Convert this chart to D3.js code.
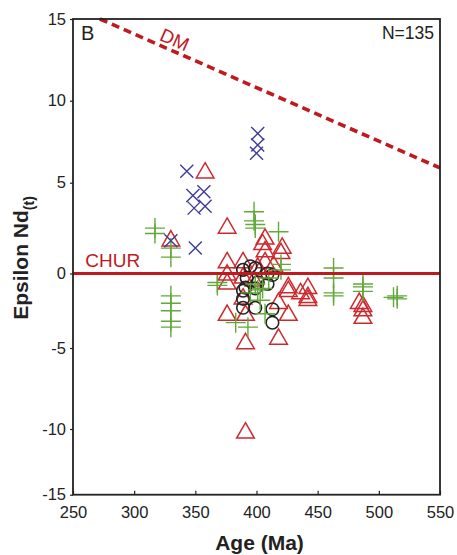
<!DOCTYPE html>
<html>
<head>
<meta charset="utf-8">
<script src="https://cdn.jsdelivr.net/npm/d3@7"></script>
<style>
  body { margin: 0; background: #fff; }
  svg text { font-family: "Liberation Sans", Arial, Helvetica, sans-serif; }
</style>
</head>
<body>
<svg id="chart" width="457" height="555"></svg>
<script>
// tick labels
const xTicks = [250, 300, 350, 400, 450, 500, 550];
const yTicks = [15, 10, 5, 0, -5, -10, -15];

// [age Ma, epsilon Nd(t)]
const crossPts = [
  [343, 5.7], [348, 4.3], [357, 4.5], [349, 3.6], [358, 3.7],
  [330, 1.8], [350, 1.4], [401, 8.0], [401, 7.3], [400, 6.8]
];
const trianglePts = [
  [358, 5.6], [330, 1.8], [376, 2.5], [407, 1.9], [421, 1.4], [420, 1.1],
  [407, 1.2], [407, 0.6], [376, 0.6], [389, 0.6], [376, -0.1], [376, -0.7],
  [389, -0.3], [401, 0.3], [398, -0.5], [405, 1.6], [414, 0.4],
  [426, -0.95], [426, -1.2], [436, -1.35], [442, -1.0], [442, -1.6], [442, -1.8],
  [484, -2.0], [487, -2.2], [487, -2.5], [487, -3.0],
  [376, -2.8], [391, -2.8], [426, -2.8], [418, -2.0], [389, -1.7],
  [391, -4.7], [418, -4.4], [391, -10.3]
];
const plusPts = [
  [317, 2.5], [317, 2.2], [330, 1.4], [330, 0.9],
  [330, -1.5], [330, -2.0], [330, -2.5], [330, -3.2], [330, -3.6],
  [368, -0.6], [368, -0.8], [398, 3.4], [398, 2.9], [399, 2.7], [399, 2.5],
  [418, 2.3], [420, 0.5], [420, 0.2], [399, -0.7], [401, -1.1], [403, -1.8],
  [407, -2.7], [383, -3.3], [393, -3.6], [405, -1.0], [410, -0.3], [395, -1.3],
  [463, 0.3], [463, -0.3], [463, -1.3], [463, -1.5],
  [487, -0.7], [487, -0.9], [487, -1.2],
  [515, -1.5], [515, -1.7], [512, -1.6]
];
const circlePts = [
  [389, 0.2], [399, 0.3], [392, -0.3], [409, 0], [413, -0.1], [395, 0.4],
  [389, -1.15], [399, -1.0], [391, -0.95], [401, -0.6], [409, -0.7],
  [389, -1.7], [389, -2.3], [399, -2.3], [413, -2.4], [413, -3.3]
];
// reference curves
const dmLine = [[272, 15], [550, 5.9]];
const churValue = 0;

const svg = d3.select("#chart");

// plot frame
const plotLeft = 73, plotRight = 440, plotTop = 19, plotBottom = 494.7;

var x = d3.scaleLinear().domain([250, 550]).range([plotLeft, plotRight]);
// the original figure's y ticks are not evenly spaced, follow them
var y = d3.scaleLinear()
  .domain([15, 10, 5, 0, -5, -10, -15])
  .range([plotTop, 100.7, 182.7, 273.5, 348, 429, plotBottom]);

const red = "#c0191f";
const triRed = "#cc2a2e";
const green = "#62a83a";
const blue = "#3d3d98";

// DM line
var dmPath = d3.line().x(d => x(d[0])).y(d => y(d[1]));
svg.append("path")
  .datum(dmLine)
  .attr("fill", "none")
  .attr("stroke", red)
  .attr("stroke-width", 3.6)
  .attr("stroke-dasharray", "8,5")
  .attr("d", dmPath);

var ang = Math.atan2(y(dmLine[1][1]) - y(dmLine[0][1]), x(dmLine[1][0]) - x(dmLine[0][0])) * 180 / Math.PI;
var labAge = 331;
var labEps = dmLine[0][1] + (labAge - dmLine[0][0]) / (dmLine[1][0] - dmLine[0][0]) * (dmLine[1][1] - dmLine[0][1]);
svg.append("text")
  .attr("transform", "translate(" + x(labAge) + "," + (y(labEps) - 5) + ") rotate(" + ang + ")")
  .attr("text-anchor", "middle")
  .attr("fill", red)
  .attr("font-size", 19)
  .text("DM");

// markers
svg.append("g").selectAll("path")
  .data(trianglePts)
  .enter().append("path")
  .attr("transform", d => "translate(" + x(d[0]) + "," + y(d[1]) + ")")
  .attr("d", d3.symbol(d3.symbolTriangle, 135))
  .attr("fill", "none")
  .attr("stroke", triRed)
  .attr("stroke-width", 1.5);

svg.append("g").selectAll("circle")
  .data(circlePts)
  .enter().append("circle")
  .attr("cx", d => x(d[0]))
  .attr("cy", d => y(d[1]))
  .attr("r", 6.3)
  .attr("fill", "none")
  .attr("stroke", "#222")
  .attr("stroke-width", 1.6);

svg.append("g").selectAll("path")
  .data(plusPts)
  .enter().append("path")
  .attr("transform", d => "translate(" + x(d[0]) + "," + y(d[1]) + ")")
  .attr("d", "M-10,0H10M0,-10V10")
  .attr("fill", "none")
  .attr("stroke", green)
  .attr("stroke-width", 1.4);

svg.append("g").selectAll("path")
  .data(crossPts)
  .enter().append("path")
  .attr("transform", d => "translate(" + x(d[0]) + "," + y(d[1]) + ")")
  .attr("d", "M-6.5,-6.5L6.5,6.5M-6.5,6.5L6.5,-6.5")
  .attr("fill", "none")
  .attr("stroke", blue)
  .attr("stroke-width", 1.4);

// CHUR line
svg.append("line")
  .attr("x1", x(250)).attr("x2", x(550))
  .attr("y1", y(churValue)).attr("y2", y(churValue))
  .attr("stroke", red)
  .attr("stroke-width", 3.2);

svg.append("text")
  .attr("x", x(260))
  .attr("y", y(churValue) - 7)
  .attr("fill", red)
  .attr("font-size", 19)
  .text("CHUR");

// axes
var xAxis = svg.append("g")
  .attr("transform", "translate(0," + plotBottom + ")")
  .call(d3.axisBottom(x).tickValues(xTicks).tickSize(-4).tickPadding(12)
    .tickFormat(d => String(d)));
var yAxis = svg.append("g")
  .attr("transform", "translate(" + plotLeft + ",0)")
  .call(d3.axisLeft(y).tickValues(yTicks).tickSize(3).tickPadding(4)
    .tickFormat(d => String(d)));

[xAxis, yAxis].forEach(function (g) {
  g.select(".domain").remove();
  g.selectAll(".tick line").attr("stroke", "#222").attr("stroke-width", 1.2);
  g.selectAll(".tick text")
    .attr("fill", "#222")
    .attr("font-size", 16.5)
    .attr("font-family", "Liberation Sans, Arial, sans-serif");
});

svg.append("rect")
  .attr("x", plotLeft).attr("y", plotTop)
  .attr("width", plotRight - plotLeft).attr("height", plotBottom - plotTop)
  .attr("fill", "none")
  .attr("stroke", "#222")
  .attr("stroke-width", 1.8);

// corner labels
svg.append("text")
  .attr("x", plotLeft + 8).attr("y", plotTop + 21)
  .attr("font-size", 20).attr("fill", "#222")
  .text("B");
svg.append("text")
  .attr("x", plotRight - 6).attr("y", plotTop + 20)
  .attr("text-anchor", "end")
  .attr("font-size", 17.5).attr("fill", "#222")
  .text("N=135");

// axis titles
svg.append("text")
  .attr("x", (plotLeft + plotRight) / 2 + 3)
  .attr("y", 550)
  .attr("text-anchor", "middle")
  .attr("font-size", 21)
  .attr("font-weight", "bold")
  .attr("fill", "#222")
  .text("Age (Ma)");

var yTitle = svg.append("text")
  .attr("transform", "translate(28,258) rotate(-90)")
  .attr("text-anchor", "middle")
  .attr("font-size", 21)
  .attr("font-weight", "bold")
  .attr("fill", "#222");
yTitle.append("tspan").text("Epsilon Nd");
yTitle.append("tspan").attr("font-size", 14).attr("dy", 6).text("(t)");
</script>
</body>
</html>
